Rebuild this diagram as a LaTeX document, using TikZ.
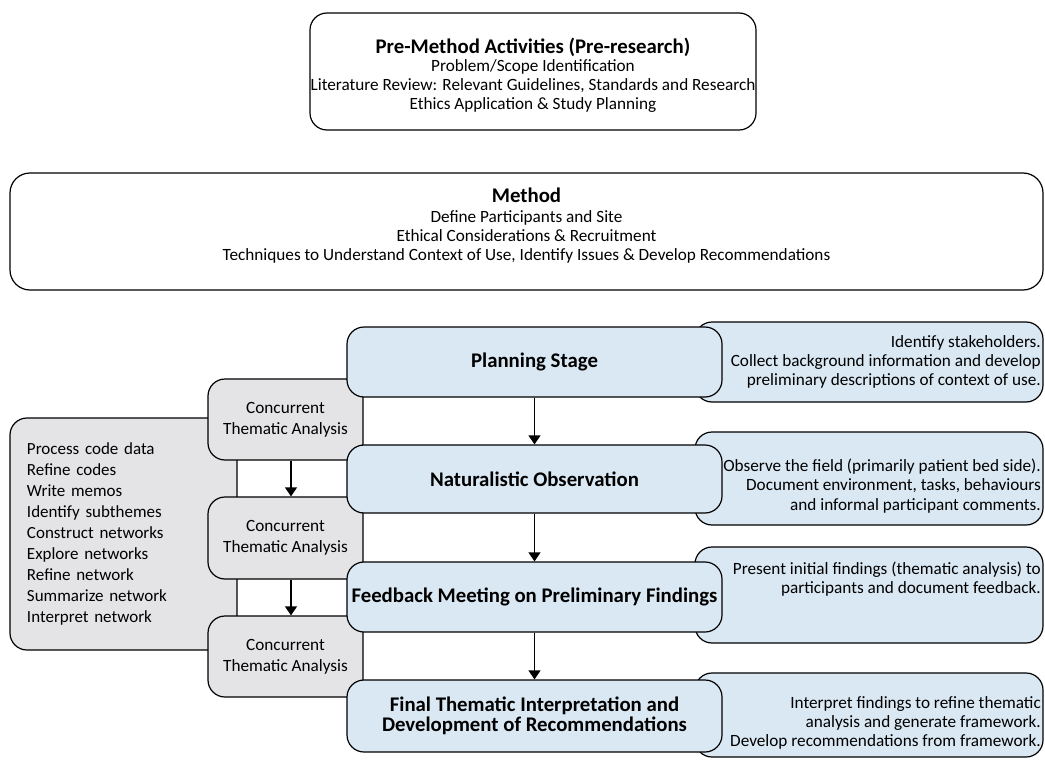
\documentclass[tikz,border=0pt]{standalone}
\usepackage{fontspec}
\setmainfont{Carlito}
\usetikzlibrary{shapes,arrows.meta,positioning}
\definecolor{stageblue}{HTML}{DAE8F3}
\definecolor{ctagray}{HTML}{E4E4E6}

\begin{document}
\begin{tikzpicture}[x=1pt,y=-1pt,
  box/.style={draw, line width=1.2pt, rounded corners=17pt, inner sep=4pt},
  stagebox/.style={box, fill=stageblue, minimum width=375pt, align=center,
    font=\fontsize{20.8}{20}\selectfont\bfseries},
  notebox/.style={box, fill=stageblue, minimum width=348pt},
  notetext/.style={anchor=east, align=right, inner sep=0pt, font=\fontsize{17.2}{19.3}\selectfont},
  ctabox/.style={box, fill=ctagray, minimum width=155pt, align=center,
    font=\fontsize{17.2}{21}\selectfont},
  flow/.style={line width=1.2pt, -{Triangle[width=12pt,length=9pt]}}]
\useasboundingbox (0,0) rectangle (1045,760);

% Pre-research box
\node[box, minimum width=446pt, minimum height=117pt] (pre) at (533,71.5) {};
\node[align=center, font=\fontsize{17.2}{18.7}\selectfont] (pretxt) at (533,75)
  {{\fontsize{20.8}{18.7}\selectfont\bfseries Pre-Method Activities (Pre-research)}\\
   Problem/Scope Identification\\
   Literature Review: Relevant Guidelines, Standards and Research\\
   Ethics Application \& Study Planning};

% Method box
\node[box, rounded corners=20pt, minimum width=1033pt, minimum height=117pt] (method) at (526.5,231.5) {};
\node[align=center, font=\fontsize{17.2}{19.3}\selectfont] (methodtxt) at (526.5,226)
  {{\fontsize{20.8}{19.3}\selectfont\bfseries Method}\\
   Define Participants and Site\\
   Ethical Considerations \& Recruitment\\
   Techniques to Understand Context of Use, Identify Issues \& Develop Recommendations};

% Thematic analysis steps
\node[box, fill=ctagray, minimum width=227pt, minimum height=232pt, text width=193pt,
  inner xsep=17pt, align=left, font=\fontsize{17}{20.9}\selectfont] (steps) at (123.5,534)
  {Process code data\\Refine codes\\Write memos\\Identify subthemes\\Construct networks\\
   Explore networks\\Refine network\\Summarize network\\Interpret network};

\node[ctabox, minimum height=81pt] (cta1) at (285.5,419.5) {Concurrent\\Thematic Analysis};
\node[ctabox, minimum height=82pt] (cta2) at (285.5,538) {Concurrent\\Thematic Analysis};
\node[ctabox, minimum height=81pt] (cta3) at (285.5,656.5) {Concurrent\\Thematic Analysis};

% Notes beside each stage
\node[notebox, minimum height=80pt] (plannote) at (869,362) {};
\node[notetext] (plantxt) at (1041,362)
  {Identify stakeholders.\\Collect background information and develop\\preliminary descriptions of context of use.};
\node[notebox, minimum height=93pt] (obsnote) at (869,478.5) {};
\node[notetext] (obstxt) at (1041,486)
  {Observe the field (primarily patient bed side).\\Document environment, tasks, behaviours\\and informal participant comments.};
\node[notebox, minimum height=96pt] (fbnote) at (869,595) {};
\node[notetext] (fbtxt) at (1041,579)
  {Present initial findings (thematic analysis) to\\participants and document feedback.};
\node[notebox, minimum height=84pt] (finalnote) at (869,715) {};
\node[notetext] (finaltxt) at (1041,723)
  {Interpret findings to refine thematic\\analysis and generate framework.\\Develop recommendations from framework.};

% Stages
\node[stagebox, minimum height=70pt] (plan) at (534.5,362) {Planning Stage};
\node[stagebox, minimum height=68pt] (obs) at (534.5,479) {Naturalistic Observation};
\node[stagebox, minimum height=70pt] (fb) at (534.5,597) {Feedback Meeting on Preliminary Findings};
\node[stagebox, minimum height=72pt] (final) at (534.5,716)
  {Final Thematic Interpretation and\\Development of Recommendations};

\draw[flow] (plan) -- (obs);
\draw[flow] (obs) -- (fb);
\draw[flow] (fb) -- (final);
\draw[flow] ([xshift=5.5pt]cta1.south) -- ([xshift=5.5pt]cta2.north);
\draw[flow] ([xshift=5.5pt]cta2.south) -- ([xshift=5.5pt]cta3.north);
\end{tikzpicture}
\end{document}
